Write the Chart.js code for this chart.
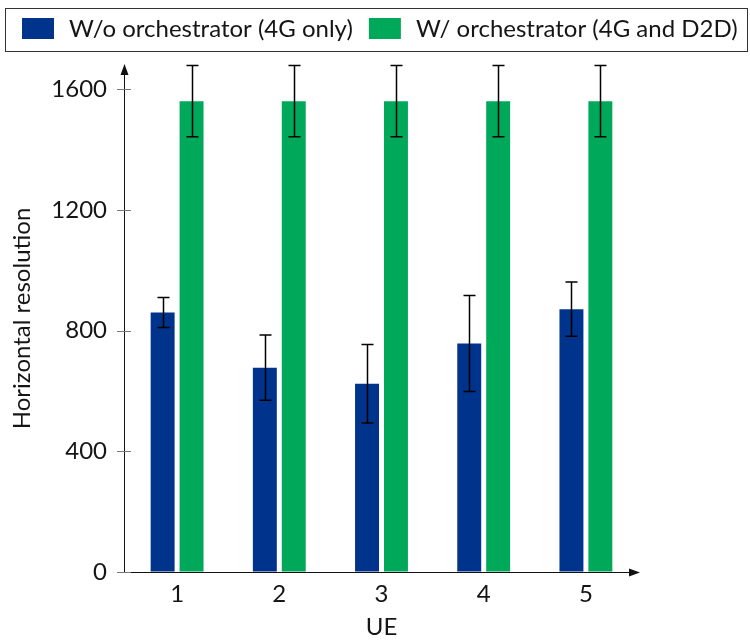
<!DOCTYPE html>
<html>
<head>
<meta charset="utf-8">
<script src="https://cdn.jsdelivr.net/npm/chart.js@4/dist/chart.umd.min.js"></script>
<style>
  html, body { margin: 0; padding: 0; background: #fff; }
  #wrap { width: 750px; height: 642px; }
</style>
</head>
<body>
<div id="wrap"><canvas id="c" width="750" height="642"></canvas></div>
<script>
// UE indices on the x axis
const categories = ['1', '2', '3', '4', '5'];

// Horizontal resolution without the orchestrator (4G only): mean and error
const withoutOrchestrator = [860, 677, 624, 757, 871];
const withoutOrchestratorErr = [50, 108, 130, 159, 90];

// Horizontal resolution with the orchestrator (4G and D2D): mean and error
const withOrchestrator = [1560, 1560, 1560, 1560, 1560];
const withOrchestratorErr = [118, 118, 118, 118, 118];

const yTicks = [0, 400, 800, 1200, 1600];

const FONT = 'Lato, "Open Sans", sans-serif';
const FONT_SIZE = 24;
const BLUE = '#00338b';
const GREEN = '#00a85a';
const AXIS = '#111';
const TEXT = '#151515';

// Symmetric error bars drawn on top of each bar
const errorBars = {
  id: 'errorBars',
  afterDatasetsDraw(chart) {
    const ctx = chart.ctx;
    const y = chart.scales.y;
    ctx.save();
    ctx.strokeStyle = '#000';
    ctx.lineWidth = 1.5;
    chart.data.datasets.forEach((ds, i) => {
      const meta = chart.getDatasetMeta(i);
      meta.data.forEach((bar, j) => {
        const v = ds.data[j], e = ds.errors[j];
        const top = y.getPixelForValue(v + e);
        const bot = y.getPixelForValue(v - e);
        const x = Math.round(bar.x) + 0.5;
        ctx.beginPath();
        ctx.moveTo(x, top); ctx.lineTo(x, bot);
        ctx.moveTo(x - 6, top); ctx.lineTo(x + 6, top);
        ctx.moveTo(x - 6, bot); ctx.lineTo(x + 6, bot);
        ctx.stroke();
      });
    });
    ctx.restore();
  }
};

// Arrow-headed axes; the y line sits just left of the category band
const arrowAxes = {
  id: 'arrowAxes',
  afterDraw(chart) {
    const ctx = chart.ctx;
    const a = chart.chartArea;
    const y = chart.scales.y;
    const ax = a.left - 2;
    ctx.save();
    ctx.fillStyle = AXIS;
    ctx.strokeStyle = AXIS;
    ctx.lineWidth = 1;
    // y axis line and arrowhead
    ctx.beginPath();
    ctx.moveTo(ax + 0.5, a.top + 6);
    ctx.lineTo(ax + 0.5, a.bottom + 1);
    ctx.stroke();
    ctx.beginPath();
    ctx.moveTo(ax + 0.5, a.top - 1);
    ctx.lineTo(ax - 3.5, a.top + 10);
    ctx.lineTo(ax + 4.5, a.top + 10);
    ctx.closePath();
    ctx.fill();
    // x axis line and arrowhead
    ctx.beginPath();
    ctx.moveTo(ax, a.bottom + 0.5);
    ctx.lineTo(a.right - 4, a.bottom + 0.5);
    ctx.stroke();
    ctx.beginPath();
    ctx.moveTo(a.right + 3, a.bottom + 0.5);
    ctx.lineTo(a.right - 8, a.bottom - 3.5);
    ctx.lineTo(a.right - 8, a.bottom + 4.5);
    ctx.closePath();
    ctx.fill();
    // y tick marks crossing the axis line
    ctx.strokeStyle = '#777';
    y.ticks.forEach(t => {
      const py = Math.round(y.getPixelForValue(t.value)) + 0.5;
      ctx.beginPath();
      ctx.moveTo(ax - 7, py);
      ctx.lineTo(ax + 7, py);
      ctx.stroke();
    });
    ctx.restore();
  }
};

// Boxed legend across the top
const boxedLegend = {
  id: 'boxedLegend',
  afterDraw(chart) {
    const ctx = chart.ctx;
    ctx.save();
    ctx.font = FONT_SIZE + 'px ' + FONT;
    ctx.textBaseline = 'middle';
    ctx.textAlign = 'left';
    let x = 22;
    chart.data.datasets.forEach(ds => {
      ctx.fillStyle = ds.backgroundColor;
      ctx.fillRect(x, 18, 32, 21);
      x += 32 + 15;
      ctx.fillStyle = TEXT;
      ctx.fillText(ds.label, x, 29.5);
      x += ctx.measureText(ds.label).width + 16;
    });
    ctx.strokeStyle = '#333';
    ctx.lineWidth = 1;
    ctx.strokeRect(5.5, 8.5, 742, 43);
    ctx.restore();
  }
};

new Chart(document.getElementById('c'), {
  type: 'bar',
  data: {
    labels: categories,
    datasets: [
      {
        label: 'W/o orchestrator (4G only)',
        data: withoutOrchestrator,
        errors: withoutOrchestratorErr,
        backgroundColor: BLUE,
        categoryPercentage: 0.566,
        barPercentage: 0.828
      },
      {
        label: 'W/ orchestrator (4G and D2D)',
        data: withOrchestrator,
        errors: withOrchestratorErr,
        backgroundColor: GREEN,
        categoryPercentage: 0.566,
        barPercentage: 0.828
      }
    ]
  },
  options: {
    responsive: false,
    devicePixelRatio: 1,
    animation: false,
    layout: { padding: { top: 65, right: 113, left: 0, bottom: 0 } },
    plugins: {
      legend: { display: false },
      tooltip: { enabled: false }
    },
    scales: {
      x: {
        grid: { display: false, drawTicks: false },
        border: { display: false },
        ticks: { color: TEXT, font: { family: FONT, size: FONT_SIZE }, padding: 8 },
        title: { display: true, text: 'UE', color: TEXT, font: { family: FONT, size: FONT_SIZE }, padding: { top: 0, bottom: 0 } },
        afterFit(scale) { scale.height = 70; }
      },
      y: {
        min: 0,
        max: 1680,
        afterBuildTicks(scale) { scale.ticks = yTicks.map(v => ({ value: v })); },
        grid: { drawOnChartArea: false, drawTicks: true, tickLength: 7, color: 'rgba(0,0,0,0)' },
        border: { display: false },
        ticks: {
          color: TEXT,
          font: { family: FONT, size: FONT_SIZE },
          padding: 12,
          callback: v => String(v)
        },
        title: { display: true, text: 'Horizontal resolution', color: TEXT, font: { family: FONT, size: FONT_SIZE }, padding: { top: 8, bottom: 0 } },
        afterFit(scale) { scale.width = 126; }
      }
    }
  },
  plugins: [errorBars, arrowAxes, boxedLegend]
});
</script>
</body>
</html>
